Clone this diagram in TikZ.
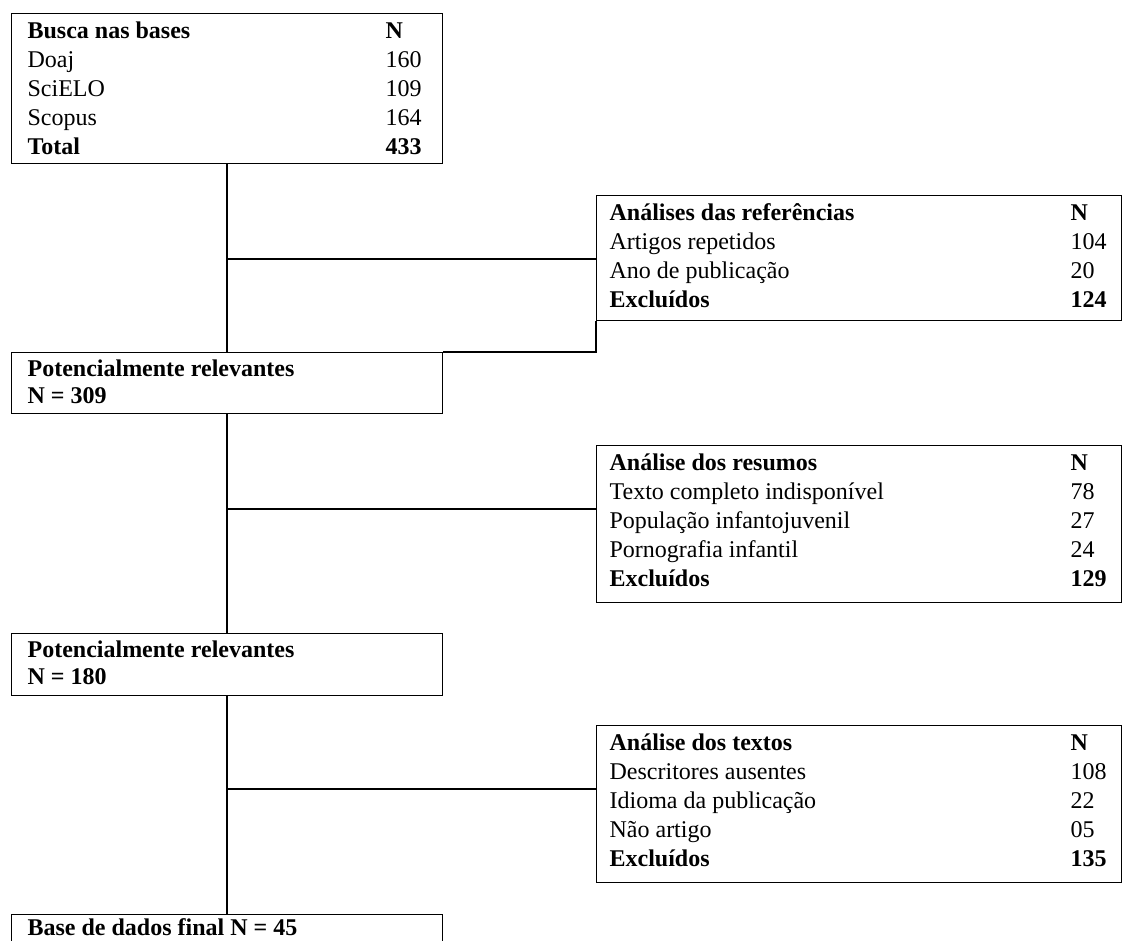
\documentclass[tikz,border=0pt]{standalone}
\usepackage{fontspec}
\setmainfont{Liberation Serif}
\usetikzlibrary{calc}

\begin{document}
\begin{tikzpicture}[x=1pt,y=-1pt,line width=1.2pt,
    caixa/.style={draw,inner sep=0pt,anchor=north west},
    esq/.style={caixa,minimum width=431pt},
    dir/.style={caixa,minimum width=525pt},
    txt/.style={anchor=base west,inner sep=0pt,font=\fontsize{24}{29}\selectfont},
    neg/.style={txt,font=\fontsize{24}{29}\selectfont\bfseries}]
    \useasboundingbox (0,0) rectangle (1123,940);
    \clip (0,0) rectangle (1123,940);
    \coordinate (eixo) at (227,0);

    % caixas da esquerda
    \node[esq,minimum height=150pt] (busca) at (11,13) {};
    \node[esq,minimum height=61pt] (pot1) at (11,352) {};
    \node[esq,minimum height=62pt] (pot2) at (11,633) {};
    \node[esq,minimum height=60pt] (final) at (11,914) {};

    % caixas da direita
    \node[dir,minimum height=125pt] (ref) at (596,195) {};
    \node[dir,minimum height=157pt] (res) at (596,445) {};
    \node[dir,minimum height=157pt] (tex) at (596,725) {};

    % busca nas bases
    \node[neg] (busca-h) at ($(busca.north west)+(16,25)$) {Busca nas bases};
    \node[neg] (busca-hn) at ($(busca.north west)+(374,25)$) {N};
    \foreach \t/\n [count=\i] in {Doaj/160,SciELO/109,Scopus/164}
      {\node[txt] (busca-t\i) at ($(busca.north west)+(16,25+29*\i)$) {\t};
       \node[txt] (busca-n\i) at ($(busca.north west)+(374,25+29*\i)$) {\n};}
    \node[neg] (busca-tot) at ($(busca.north west)+(16,141)$) {Total};
    \node[neg] (busca-ntot) at ($(busca.north west)+(374,141)$) {433};

    % analises das referencias
    \node[neg] (ref-h) at ($(ref.north west)+(13,25)$) {Análises das referências};
    \node[neg] (ref-hn) at ($(ref.north west)+(474,25)$) {N};
    \foreach \t/\n [count=\i] in {Artigos repetidos/104,Ano de publicação/20}
      {\node[txt] (ref-t\i) at ($(ref.north west)+(13,25+29*\i)$) {\t};
       \node[txt] (ref-n\i) at ($(ref.north west)+(474,25+29*\i)$) {\n};}
    \node[neg] (ref-exc) at ($(ref.north west)+(13,112)$) {Excluídos};
    \node[neg] (ref-nexc) at ($(ref.north west)+(474,112)$) {124};

    % potencialmente relevantes
    \node[neg] (pot1-a) at ($(pot1.north west)+(16,24)$) {Potencialmente relevantes};
    \node[neg] (pot1-b) at ($(pot1.north west)+(16,51)$) {N = 309};

    % analise dos resumos
    \node[neg] (res-h) at ($(res.north west)+(13,25)$) {Análise dos resumos};
    \node[neg] (res-hn) at ($(res.north west)+(474,25)$) {N};
    \foreach \t/\n [count=\i] in {Texto completo indisponível/78,População infantojuvenil/27,Pornografia infantil/24}
      {\node[txt] (res-t\i) at ($(res.north west)+(13,25+29*\i)$) {\t};
       \node[txt] (res-n\i) at ($(res.north west)+(474,25+29*\i)$) {\n};}
    \node[neg] (res-exc) at ($(res.north west)+(13,141)$) {Excluídos};
    \node[neg] (res-nexc) at ($(res.north west)+(474,141)$) {129};

    \node[neg] (pot2-a) at ($(pot2.north west)+(16,24)$) {Potencialmente relevantes};
    \node[neg] (pot2-b) at ($(pot2.north west)+(16,51)$) {N = 180};

    % analise dos textos
    \node[neg] (tex-h) at ($(tex.north west)+(13,25)$) {Análise dos textos};
    \node[neg] (tex-hn) at ($(tex.north west)+(474,25)$) {N};
    \foreach \t/\n [count=\i] in {Descritores ausentes/108,Idioma da publicação/22,Não artigo/05}
      {\node[txt] (tex-t\i) at ($(tex.north west)+(13,25+29*\i)$) {\t};
       \node[txt] (tex-n\i) at ($(tex.north west)+(474,25+29*\i)$) {\n};}
    \node[neg] (tex-exc) at ($(tex.north west)+(13,141)$) {Excluídos};
    \node[neg] (tex-nexc) at ($(tex.north west)+(474,141)$) {135};

    \node[neg] (final-a) at ($(final.north west)+(16,21)$) {Base de dados final N = 45};

    % linhas de ligacao
    \draw (busca.south -| eixo) -- (pot1.north -| eixo);
    \draw (pot1.south -| eixo) -- (pot2.north -| eixo);
    \draw (pot2.south -| eixo) -- (final.north -| eixo);
    \coordinate (c1) at ($(ref.north west)+(0,64)$);
    \coordinate (c2) at ($(res.north west)+(0,64)$);
    \coordinate (c3) at ($(tex.north west)+(0,64)$);
    \draw (c1 -| eixo) -- (c1);
    \draw (c2 -| eixo) -- (c2);
    \draw (c3 -| eixo) -- (c3);
    \draw (ref.south west) -- (ref.west |- pot1.north) -- (pot1.north east);
\end{tikzpicture}
\end{document}
